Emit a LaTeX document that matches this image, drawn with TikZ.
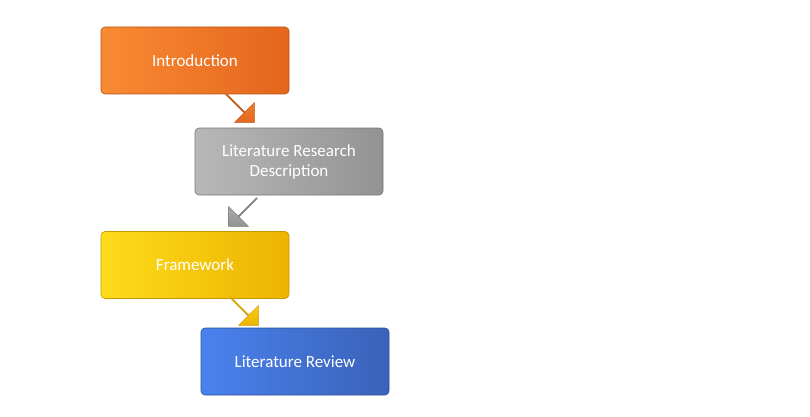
\documentclass[tikz,border=0pt]{standalone}
\usepackage{fontspec}
\setmainfont{Carlito}
\usetikzlibrary{shapes.arrows}
\definecolor{orA}{HTML}{F98A34}\definecolor{orB}{HTML}{E4661C}
\definecolor{grA}{HTML}{B8B8B8}\definecolor{grB}{HTML}{939393}
\definecolor{yeA}{HTML}{FDDC1A}\definecolor{yeB}{HTML}{EDB300}
\definecolor{blA}{HTML}{4A82EE}\definecolor{blB}{HTML}{3A62B8}
\tikzset{
 stepbox/.style={rounded corners=4pt,minimum width=188pt,minimum height=67pt,
   text=white,font=\fontsize{17}{20}\selectfont,align=center,line width=0.6pt},
 blk/.style={single arrow,minimum height=40pt,minimum width=28pt,
   single arrow head extend=6pt,inner sep=0pt,line width=0.5pt}
}
\begin{document}
\begin{tikzpicture}[x=1pt,y=-1pt]
\useasboundingbox (0,0) rectangle (810,417);
\node[stepbox,left color=orA,right color=orB,draw=orB!80!black] (a) at (195,60.5) {Introduction};
\node[stepbox,left color=grA,right color=grB,draw=grB!80!black] (b) at (289,161.5) {Literature Research\\Description};
\node[stepbox,left color=yeA,right color=yeB,draw=yeB!85!black] (c) at (195,265) {Framework};
\node[stepbox,left color=blA,right color=blB,draw=blB!80!black] (d) at (295,361.5) {Literature Review};
\node[blk,rotate=-45,top color=orA,bottom color=orB,draw=orB!80!black] (ab) at (240,108) {};
\node[blk,rotate=-135,top color=grA,bottom color=grB,draw=grB!80!black] (bc) at (243,212) {};
\node[blk,rotate=-45,top color=yeA,bottom color=yeB,draw=yeB!85!black] (cd) at (244,311) {};
\end{tikzpicture}
\end{document}
